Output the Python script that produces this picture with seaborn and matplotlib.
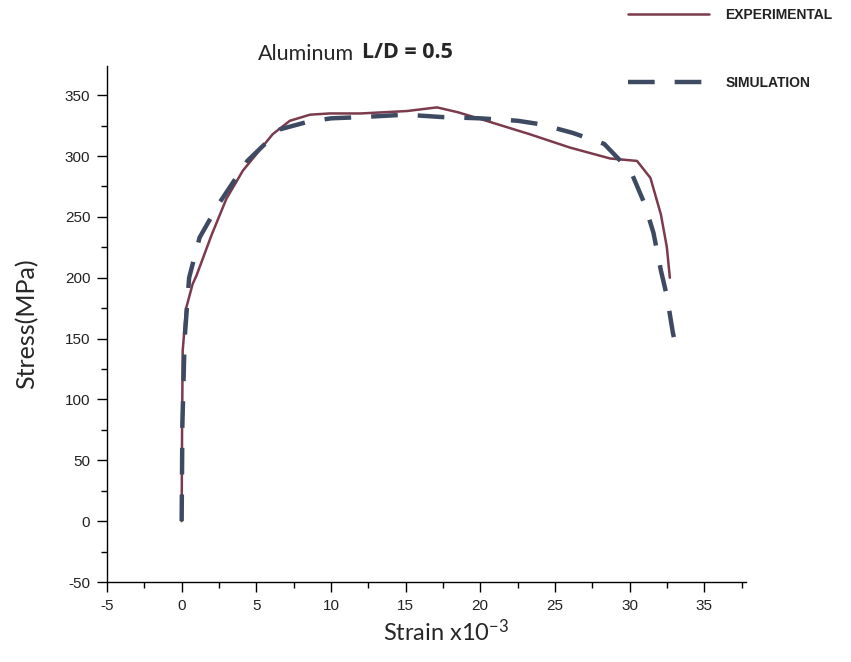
import matplotlib
matplotlib.use("Agg")
import matplotlib.pyplot as plt
import seaborn as sns
import pandas as pd
from matplotlib.ticker import MultipleLocator

# --- data ---
exp_strain = [0, 0.03, 0.07, 0.3, 0.74, 1.0, 2.0, 3.0, 4.1, 6.1, 7.25, 8.6, 9.9,
              12.0, 15.1, 17.1, 18.5, 20.4, 23.3, 26.0, 28.7, 30.5, 31.4, 32.1,
              32.5, 32.7]
exp_stress = [0, 80, 140, 175, 195, 202, 235, 265, 288, 318, 329, 334, 335,
              335, 337, 340, 336, 329, 318, 307, 298, 296, 282, 252, 225, 200]

sim_strain = [0, 0.05, 0.2, 0.5, 1.2, 2.5, 4.4, 6.6, 8.4, 10.0, 12.0, 15.0,
              17.5, 20.0, 22.5, 24.1, 26.2, 28.3, 30.1, 31.0, 31.6, 32.1, 32.5,
              32.9, 33.2]
sim_stress = [0, 80, 150, 200, 233, 261, 296, 322, 328, 331, 332, 334, 332,
              331, 329, 326, 319, 310, 287, 261, 237, 206, 185, 155, 138]

x_ticks = [-5, 0, 5, 10, 15, 20, 25, 30, 35]
y_ticks = [-50, 0, 50, 100, 150, 200, 250, 300, 350]

exp_df = pd.DataFrame({"strain": exp_strain, "stress": exp_stress})
sim_df = pd.DataFrame({"strain": sim_strain, "stress": sim_stress})

sns.set_style("ticks")
plt.rcParams["font.family"] = ["Liberation Sans", "DejaVu Sans"]
plt.rcParams["mathtext.default"] = "regular"
plt.rcParams["axes.unicode_minus"] = False

fig = plt.figure(figsize=(8.51, 6.62), dpi=100)
ax = fig.add_axes([107/851, 1-582/662, (746-107)/851, (582-66)/662])

exp_color = "#7b3b4c"
sim_color = "#3e4a62"

sns.lineplot(data=exp_df, x="strain", y="stress", sort=False, ax=ax,
             color=exp_color, lw=1.8, label="EXPERIMENTAL", estimator=None)
sns.lineplot(data=sim_df, x="strain", y="stress", sort=False, ax=ax,
             color=sim_color, lw=3.2, label="SIMULATION", estimator=None,
             dashes=False)
ax.lines[-1].set_dashes([6, 4.5])

ax.set_xlim(-5, 37.8)
ax.set_ylim(-50, 374)
ax.set_xticks(x_ticks)
ax.set_yticks(y_ticks)
ax.xaxis.set_minor_locator(MultipleLocator(2.5))
ax.yaxis.set_minor_locator(MultipleLocator(25))
ax.tick_params(which="major", length=7, width=1, color="black",
               labelsize=11, labelcolor="#222222", direction="out", pad=5)
ax.tick_params(which="minor", length=4, width=1, color="black", direction="out")
for s in ["top", "right"]:
    ax.spines[s].set_visible(False)
for s in ["left", "bottom"]:
    ax.spines[s].set_color("black")
    ax.spines[s].set_linewidth(1.0)

ax.set_xlabel("Strain x10$^{-3}$", fontsize=17, family="Lato")
ax.xaxis.set_label_coords((446-107)/639, (582-632)/516)
ax.xaxis.label.set_va("center")
ax.set_ylabel("Stress(MPa)", fontsize=18, family="Lato")
ax.yaxis.set_label_coords((27-107)/639, 0.50)
ax.yaxis.label.set_va("center")

fig.text(258/851, 1-54/662, "Aluminum", fontsize=15.5, family="Lato",
         ha="left", va="center")
fig.text(362/851, 1-52/662, "L/D = 0.5", fontsize=15.5, family="Open Sans",
         weight="bold", ha="left", va="center")

leg = ax.legend(loc="upper left", bbox_to_anchor=(628/851, 1-8/662),
                bbox_transform=fig.transFigure, frameon=False,
                borderpad=0, borderaxespad=0,
                handlelength=5.8, handletextpad=1.2, labelspacing=3.9,
                prop={"size": 10, "weight": "bold", "family": "Liberation Sans"})
for t in leg.get_texts():
    t.set_color("#222222")

fig.savefig("out.png", dpi=100)
